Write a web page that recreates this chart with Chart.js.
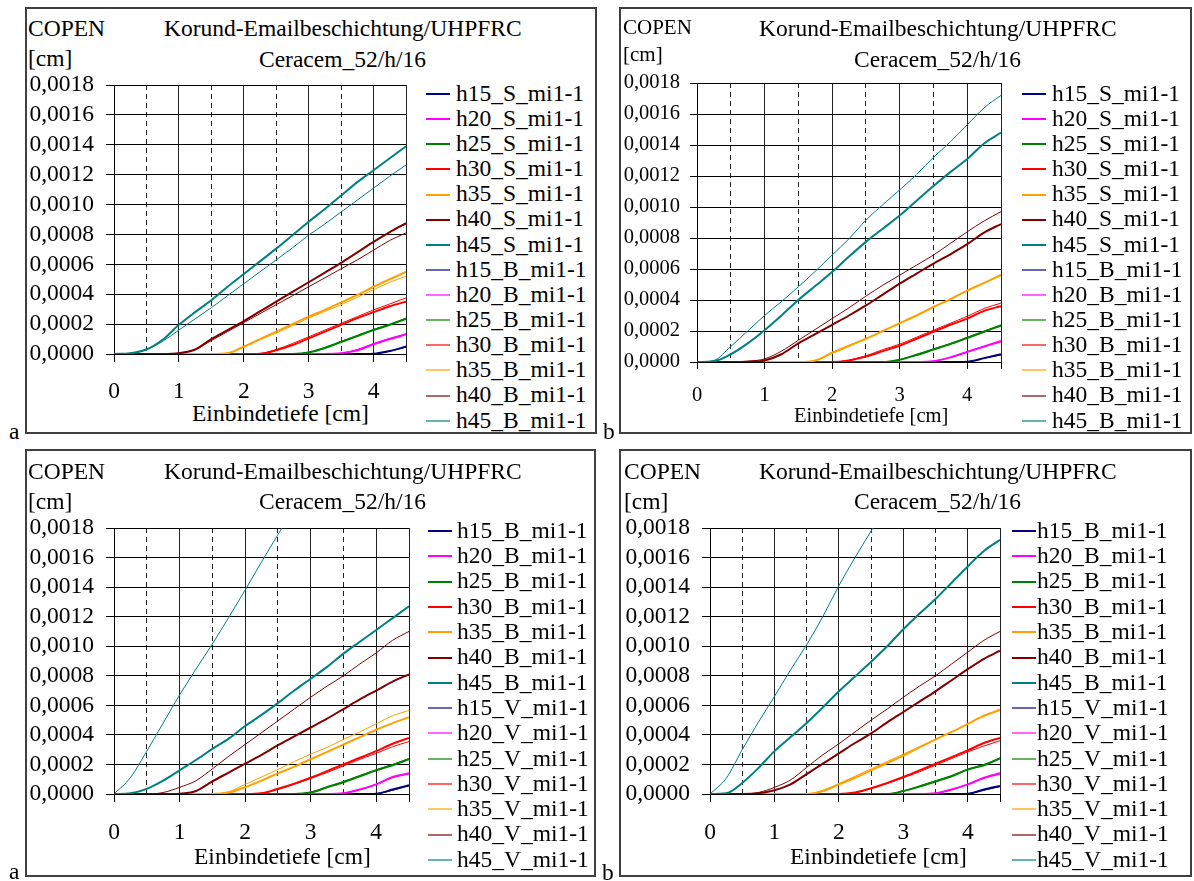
<!DOCTYPE html>
<html>
<head>
<meta charset="utf-8">
<script src="https://cdn.jsdelivr.net/npm/chart.js@4.4.0/dist/chart.umd.min.js"></script>
<style>
  body { margin: 0; background: #fff; width: 1194px; height: 881px; position: relative; overflow: hidden;
         font-family: "Liberation Serif", "Times New Roman", serif; }
  .box { position: absolute; border: 2px solid #404040; box-sizing: border-box; }
  .t { position: absolute; white-space: nowrap; color: #000; }
  .sw { position: absolute; width: 24px; }
  canvas { position: absolute; left: 0; top: 0; pointer-events: none; }
</style>
</head>
<body>
<script>
// Einbindetiefe [cm]
const depth = [0, 0.25, 0.5, 0.75, 1, 1.25, 1.5, 1.75, 2, 2.25, 2.5, 2.75, 3, 3.25, 3.5, 3.75, 4, 4.25, 4.5];
// COPEN values below are given in units of 1e-4 cm
const UNIT = 1e-4;
const heights = ["h15", "h20", "h25", "h30", "h35", "h40", "h45"];
const colours = ["#000080", "#ff00ff", "#008000", "#ff0000", "#ffa000", "#800000", "#008080"];

// panel a (top): S thick, B thin
const a1Thick = [
  [0,0,0,0,0,0,0,0,0,0,0,0,0,0,0,0,0.02,0.2,0.5],
  [0,0,0,0,0,0,0,0,0,0,0,0,0,0,0.05,0.25,0.65,1.0,1.3],
  [0,0,0,0,0,0,0,0,0,0,0,0,0.1,0.4,0.8,1.2,1.6,1.95,2.35],
  [0,0,0,0,0,0,0,0,0,0.02,0.25,0.6,1.05,1.5,1.95,2.4,2.8,3.2,3.5],
  [0,0,0,0,0,0,0,0.05,0.5,1.0,1.5,2.0,2.5,2.95,3.45,3.95,4.5,5.0,5.5],
  [0,0,0,0,0.05,0.3,1.0,1.6,2.2,2.85,3.5,4.15,4.8,5.45,6.1,6.8,7.5,8.15,8.75],
  [0,0.05,0.3,0.95,1.95,2.8,3.6,4.5,5.35,6.2,7.05,7.95,8.85,9.7,10.6,11.5,12.3,13.1,13.9]
];
const a1Thin = [
  [0,0,0,0,0,0,0,0,0,0,0,0,0,0,0,0,0.02,0.2,0.45],
  [0,0,0,0,0,0,0,0,0,0,0,0,0,0,0.05,0.3,0.7,1.05,1.35],
  [0,0,0,0,0,0,0,0,0,0,0,0,0.1,0.45,0.85,1.25,1.65,2.0,2.4],
  [0,0,0,0,0,0,0,0,0,0.03,0.3,0.7,1.15,1.6,2.05,2.5,2.95,3.35,3.75],
  [0,0,0,0,0,0,0,0.05,0.45,0.95,1.4,1.9,2.4,2.85,3.3,3.8,4.3,4.8,5.2],
  [0,0,0,0,0.05,0.3,0.9,1.5,2.1,2.7,3.3,3.9,4.5,5.1,5.7,6.3,6.95,7.6,8.1],
  [0,0.05,0.3,0.85,1.6,2.35,3.1,3.9,4.7,5.5,6.3,7.1,7.95,8.7,9.5,10.3,11.1,11.9,12.65]
];
// panel b (top): S thick, B thin
const a2Thick = [
  [0,0,0,0,0,0,0,0,0,0,0,0,0,0,0,0,0.02,0.25,0.5],
  [0,0,0,0,0,0,0,0,0,0,0,0,0,0,0.05,0.3,0.65,1.0,1.35],
  [0,0,0,0,0,0,0,0,0,0,0,0,0.15,0.45,0.8,1.15,1.55,1.95,2.35],
  [0,0,0,0,0,0,0,0,0,0.1,0.35,0.7,1.05,1.5,1.95,2.4,2.8,3.3,3.6],
  [0,0,0,0,0,0,0,0.1,0.6,1.05,1.5,2.0,2.5,3.0,3.55,4.05,4.6,5.1,5.6],
  [0,0,0,0.02,0.1,0.5,1.2,1.8,2.4,3.0,3.65,4.35,5.05,5.7,6.35,6.95,7.6,8.35,8.9],
  [0,0.05,0.5,1.2,2.05,3.0,4.0,4.9,5.8,6.8,7.75,8.6,9.45,10.4,11.35,12.25,13.1,14.1,14.8]
];
const a2Thin = [
  [0,0,0,0,0,0,0,0,0,0,0,0,0,0,0,0,0.02,0.25,0.45],
  [0,0,0,0,0,0,0,0,0,0,0,0,0,0,0.05,0.3,0.65,1.0,1.3],
  [0,0,0,0,0,0,0,0,0,0,0,0,0.15,0.5,0.85,1.2,1.6,2.0,2.4],
  [0,0,0,0,0,0,0,0,0,0.12,0.4,0.8,1.15,1.6,2.05,2.5,2.95,3.45,3.8],
  [0,0,0,0,0,0,0,0.08,0.55,1.0,1.5,2.0,2.5,3.0,3.55,4.05,4.6,5.1,5.65],
  [0,0,0,0.05,0.2,0.7,1.4,2.1,2.8,3.5,4.25,4.95,5.6,6.25,6.9,7.65,8.4,9.1,9.7],
  [0,0.1,1.0,2.0,3.0,3.9,4.85,5.85,6.9,7.95,9.15,10.15,11.1,12.1,13.2,14.2,15.3,16.4,17.2]
];
// panel a (bottom): B thick, V thin
const b1Thick = [
  [0,0,0,0,0,0,0,0,0,0,0,0,0,0,0,0,0.02,0.3,0.6],
  [0,0,0,0,0,0,0,0,0,0,0,0,0,0,0.05,0.3,0.65,1.15,1.4],
  [0,0,0,0,0,0,0,0,0,0,0,0,0.1,0.45,0.8,1.2,1.6,1.95,2.35],
  [0,0,0,0,0,0,0,0,0,0.05,0.35,0.7,1.1,1.55,2.0,2.45,2.9,3.4,3.8],
  [0,0,0,0,0,0,0,0.1,0.45,0.9,1.4,1.85,2.35,2.85,3.35,3.85,4.35,4.8,5.2],
  [0,0,0,0,0.02,0.2,0.85,1.45,2.05,2.65,3.3,3.9,4.5,5.1,5.75,6.4,7.0,7.6,8.1],
  [0,0.05,0.35,0.9,1.6,2.3,3.05,3.75,4.6,5.35,6.15,7.0,7.8,8.6,9.5,10.3,11.1,11.9,12.7]
];
const b1Thin = [
  [0,0,0,0,0,0,0,0,0,0,0,0,0,0,0,0,0.02,0.25,0.55],
  [0,0,0,0,0,0,0,0,0,0,0,0,0,0,0.05,0.3,0.65,1.1,1.35],
  [0,0,0,0,0,0,0,0,0,0,0,0,0.12,0.5,0.85,1.25,1.65,2.0,2.4],
  [0,0,0,0,0,0,0,0,0,0.05,0.3,0.65,1.05,1.45,1.9,2.35,2.75,3.2,3.55],
  [0,0,0,0,0,0,0,0.15,0.65,1.15,1.65,2.2,2.7,3.15,3.7,4.2,4.75,5.3,5.65],
  [0,0,0,0.1,0.45,0.9,1.7,2.55,3.35,4.15,4.95,5.75,6.55,7.3,8.0,8.8,9.55,10.4,11.0],
  [0,1.1,2.9,4.8,6.7,8.45,10.15,11.95,13.8,15.7,17.55,19.4]
];
// panel b (bottom): B thick, V thin
const b2Thick = [
  [0,0,0,0,0,0,0,0,0,0,0,0,0,0,0,0,0.02,0.3,0.55],
  [0,0,0,0,0,0,0,0,0,0,0,0,0,0,0.05,0.3,0.65,1.1,1.4],
  [0,0,0,0,0,0,0,0,0,0,0,0,0.2,0.5,0.85,1.2,1.65,1.95,2.4],
  [0,0,0,0,0,0,0,0,0,0.1,0.4,0.75,1.15,1.6,2.05,2.5,2.95,3.45,3.8],
  [0,0,0,0,0,0,0,0.2,0.65,1.1,1.6,2.1,2.6,3.15,3.7,4.2,4.75,5.3,5.7],
  [0,0,0,0.05,0.25,0.65,1.35,2.05,2.75,3.45,4.1,4.85,5.55,6.25,6.95,7.7,8.45,9.15,9.7],
  [0,0.05,0.75,1.75,2.9,3.85,4.8,5.85,6.95,7.95,8.95,10.0,11.15,12.2,13.2,14.3,15.4,16.45,17.2]
];
const b2Thin = [
  [0,0,0,0,0,0,0,0,0,0,0,0,0,0,0,0,0.02,0.25,0.5],
  [0,0,0,0,0,0,0,0,0,0,0,0,0,0,0.05,0.3,0.65,1.05,1.35],
  [0,0,0,0,0,0,0,0,0,0,0,0,0.2,0.55,0.9,1.25,1.7,2.0,2.45],
  [0,0,0,0,0,0,0,0,0,0.1,0.35,0.7,1.1,1.5,1.95,2.4,2.85,3.25,3.6],
  [0,0,0,0,0,0,0,0.25,0.7,1.2,1.7,2.2,2.7,3.2,3.7,4.2,4.75,5.25,5.65],
  [0,0,0,0.1,0.45,0.95,1.8,2.65,3.4,4.2,5.0,5.75,6.55,7.3,8.0,8.8,9.6,10.4,11.0],
  [0,1.05,3.0,4.85,6.6,8.4,10.1,12.0,14.1,16.0,17.8,19.6]
];

const titleText = "Korund-Emailbeschichtung/UHPFRC";
const subText = "Ceracem_52/h/16";
const FONT = "Liberation Serif";
const BIG = 23.5;

const panels = [
  { box: [25, 7, 572, 427], area: { l: 114, r: 406, t: 85, b: 354 }, size: BIG, tl: 8, yPad: 12, xPad: 16,
    thick: a1Thick, thin: a1Thin, tags: ["S", "B"],
    legend: { lx: 426, tx: 456, y0: 94, dy: 25.13 },
    copen: [28, 37, BIG], unit: [28, 67, BIG], title: [164, 37], sub: [259, 68], xt: [192, 422, BIG], letter: ["a", 9, 440] },
  { box: [619, 7, 573, 427], area: { l: 697, r: 1001, t: 83, b: 362 }, size: 20.5, tl: 7, yPad: 10, xPad: 14.7,
    thick: a2Thick, thin: a2Thin, tags: ["S", "B"],
    legend: { lx: 1022, tx: 1052, y0: 94, dy: 25.13 },
    copen: [623, 35, 21], unit: [623, 62, 21], title: [759, 37], sub: [854, 68], xt: [794, 422, 20.5], letter: ["b", 603, 440] },
  { box: [25, 449, 571, 428], area: { l: 114, r: 409, t: 528, b: 794 }, size: BIG, tl: 8, yPad: 12, xPad: 17,
    thick: b1Thick, thin: b1Thin, tags: ["B", "V"],
    legend: { lx: 428, tx: 457, y0: 531, dy: 25.3 },
    copen: [28, 480, BIG], unit: [28, 510, BIG], title: [164, 480], sub: [259, 510], xt: [194, 865, BIG], letter: ["a", 9, 880] },
  { box: [619, 449, 573, 428], area: { l: 710, r: 1000, t: 528, b: 794 }, size: BIG, tl: 8, yPad: 12, xPad: 17,
    thick: b2Thick, thin: b2Thin, tags: ["B", "V"],
    legend: { lx: 1012, tx: 1037, y0: 531, dy: 25.3 },
    copen: [624, 480, BIG], unit: [624, 510, BIG], title: [759, 480], sub: [854, 510], xt: [790, 865, BIG], letter: ["b", 602, 881] }
];

function addText(str, x, baseline, size) {
  const d = document.createElement("div");
  d.className = "t";
  d.textContent = str;
  d.style.fontSize = size + "px";
  d.style.lineHeight = size + "px";
  d.style.left = x + "px";
  d.style.top = (baseline - 0.8375 * size) + "px";
  document.body.appendChild(d);
}

function addSwatch(x, y, colour, thick) {
  const s = document.createElement("div");
  s.className = "sw";
  s.style.left = x + "px";
  s.style.top = (y - 1) + "px";
  s.style.height = "2px";
  s.style.background = colour;
  if (!thick) s.style.opacity = "0.6";
  document.body.appendChild(s);
}

function points(vals) {
  return vals.map((v, i) => ({ x: depth[i], y: v * UNIT }));
}

function isWhole(v) {
  return Math.abs(v - Math.round(v)) < 1e-9;
}

panels.forEach(function (p) {
  const b = document.createElement("div");
  b.className = "box";
  b.style.left = p.box[0] + "px";
  b.style.top = p.box[1] + "px";
  b.style.width = p.box[2] + "px";
  b.style.height = p.box[3] + "px";
  document.body.appendChild(b);

  addText("COPEN", p.copen[0], p.copen[1], p.copen[2]);
  addText("[cm]", p.unit[0], p.unit[1], p.unit[2]);
  addText(titleText, p.title[0], p.title[1], BIG);
  addText(subText, p.sub[0], p.sub[1], BIG);
  addText("Einbindetiefe [cm]", p.xt[0], p.xt[1], p.xt[2]);
  addText(p.letter[0], p.letter[1], p.letter[2], BIG);

  const datasets = [];
  const groups = [[p.thick, p.tags[0], 2, 0], [p.thin, p.tags[1], 1, 10]];
  groups.forEach(function (g, gi) {
    g[0].forEach(function (vals, k) {
      const label = heights[k] + "_" + g[1] + "_mi1-1";
      datasets.push({
        label: label,
        data: points(vals),
        borderColor: colours[k],
        borderWidth: g[2],
        pointRadius: 0,
        fill: false,
        cubicInterpolationMode: "monotone",
        order: g[3] + (6 - k)
      });
      const row = gi * 7 + k;
      const y = p.legend.y0 + row * p.legend.dy;
      addSwatch(p.legend.lx, y, colours[k], gi === 0);
      addText(label, p.legend.tx, y + 7.5, BIG);
    });
  });

  const canvas = document.createElement("canvas");
  canvas.width = 1194;
  canvas.height = 881;
  document.body.appendChild(canvas);

  const yW = 112, xH = 60;
  const a = p.area;
  new Chart(canvas, {
    type: "line",
    data: { datasets: datasets },
    options: {
      responsive: false,
      animation: false,
      devicePixelRatio: 1,
      layout: { padding: { left: a.l - yW, right: 1194 - a.r, top: a.t, bottom: 881 - a.b - xH } },
      plugins: { legend: { display: false }, tooltip: { enabled: false } },
      scales: {
        x: {
          type: "linear", min: 0, max: 4.5,
          afterFit: function (s) { s.height = xH; },
          ticks: {
            stepSize: 0.5, autoSkip: false, maxRotation: 0, color: "#000", padding: p.xPad,
            font: { family: FONT, size: p.size },
            callback: function (v) { return isWhole(v) ? String(Math.round(v)) : ""; }
          },
          grid: {
            color: "#222", lineWidth: 1, tickLength: p.tl,
            tickColor: function (ctx) {
              if (!ctx.tick) return "#000";
              return (isWhole(ctx.tick.value) || ctx.tick.value > 4.4) ? "#000" : "rgba(0,0,0,0)";
            }
          },
          border: {
            color: "#000", width: 1,
            dash: function (ctx) {
              if (!ctx.tick) return [];
              return (!isWhole(ctx.tick.value) && ctx.tick.value < 4.4) ? [5, 4] : [];
            }
          }
        },
        y: {
          min: 0, max: 0.0018,
          afterFit: function (s) { s.width = yW; },
          ticks: {
            stepSize: 0.0002, autoSkip: false, color: "#000", padding: p.yPad,
            font: { family: FONT, size: p.size },
            callback: function (v) { return v.toFixed(4).replace(".", ","); }
          },
          grid: { color: "#000", lineWidth: 1, tickLength: p.tl },
          border: { color: "#000", width: 1 }
        }
      }
    }
  });
});
</script>
</body>
</html>
